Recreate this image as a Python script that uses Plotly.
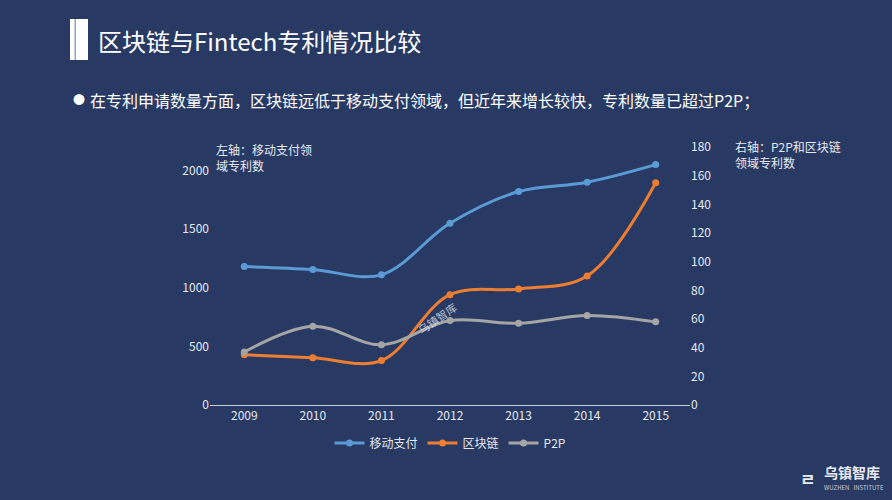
import plotly.graph_objects as go

years = ["2009", "2010", "2011", "2012", "2013", "2014", "2015"]
mobile_pay = [1180, 1155, 1110, 1550, 1820, 1900, 2050]
blockchain = [35, 33, 31, 77, 81, 90, 155]
p2p = [37, 55, 42, 59, 57, 62.5, 58]
left_ticks = [0, 500, 1000, 1500, 2000]
right_ticks = [0, 20, 40, 60, 80, 100, 120, 140, 160, 180]

BG = "rgb(40,58,99)"
TXT = "#e6e9ef"
FONT = "Noto Sans CJK SC"

fig = go.Figure()
fig.add_trace(go.Scatter(x=years, y=mobile_pay, name="移动支付", mode="lines+markers",
                         line=dict(color="#5b9bd5", width=3, shape="spline"),
                         marker=dict(size=7, color="#5b9bd5"), yaxis="y"))
fig.add_trace(go.Scatter(x=years, y=blockchain, name="区块链", mode="lines+markers",
                         line=dict(color="#ed7d31", width=3, shape="spline"),
                         marker=dict(size=7, color="#ed7d31"), yaxis="y2"))
fig.add_trace(go.Scatter(x=years, y=p2p, name="P2P", mode="lines+markers",
                         line=dict(color="#a5a5a5", width=3, shape="spline"),
                         marker=dict(size=7, color="#a5a5a5"), yaxis="y2"))

W, H = 892, 500
ML, MR, MT, MB = 210, 202, 147, 95

def px(x): return (x - ML) / (W - ML - MR)
def py(y): return (H - MB - y) / (H - MT - MB)

fig.update_layout(
    width=W, height=H,
    paper_bgcolor=BG, plot_bgcolor=BG,
    margin=dict(l=ML, r=MR, t=MT, b=MB, autoexpand=False),
    font=dict(family=FONT, color=TXT, size=12),
    xaxis=dict(type="category", range=[-0.5, 6.5], showgrid=False, showline=True,
               linecolor="#c8ccd6", linewidth=1, ticks="", zeroline=False,
               tickfont=dict(size=12, color=TXT)),
    yaxis=dict(range=[0, 2200], tickvals=left_ticks, showgrid=False, zeroline=False,
               showline=False, ticks="", tickfont=dict(size=12, color=TXT)),
    yaxis2=dict(range=[0, 180], tickvals=right_ticks, overlaying="y", side="right",
                showgrid=False, zeroline=False, showline=False, ticks="",
                tickfont=dict(size=12, color=TXT)),
    legend=dict(orientation="h", x=0.5, xanchor="center", y=py(443), yanchor="middle",
                font=dict(size=12, color=TXT), bgcolor="rgba(0,0,0,0)", itemwidth=30,
                tracegroupgap=0),
    showlegend=True,
)

# title marker bars
fig.add_shape(type="rect", xref="paper", yref="paper", x0=px(70), x1=px(88), y0=py(60), y1=py(19),
              fillcolor="#ffffff", line=dict(width=0))
fig.add_shape(type="rect", xref="paper", yref="paper", x0=px(74.5), x1=px(76), y0=py(60), y1=py(19),
              fillcolor="#9aa3b5", line=dict(width=0))

anns = [
    dict(text="区块链与Fintech专利情况比较", x=px(96), y=py(41), xanchor="left", yanchor="middle",
         font=dict(size=24, color="#ffffff")),
    dict(text="●", x=px(71), y=py(100), xanchor="left", yanchor="middle", font=dict(size=12, color="#ffffff")),
    dict(text="在专利申请数量方面，区块链远低于移动支付领域，但近年来增长较快，专利数量已超过P2P；",
         x=px(88), y=py(100), xanchor="left", yanchor="middle", font=dict(size=16, color="#ffffff")),
    dict(text="左轴：移动支付领<br>域专利数", x=px(214), y=py(139), xanchor="left", yanchor="top", align="left",
         font=dict(size=12, color=TXT)),
    dict(text="右轴：P2P和区块链<br>领域专利数", x=px(733), y=py(136), xanchor="left", yanchor="top", align="left",
         font=dict(size=12, color=TXT)),
    dict(text="乌镇智库", x=px(437), y=py(318), xanchor="center", yanchor="middle", textangle=-35,
         font=dict(size=11, color="rgba(230,235,245,0.75)")),
    dict(text="<b>乌镇智库</b>", x=px(822), y=py(472), xanchor="left", yanchor="middle",
         font=dict(size=14, color="#e8ebf2")),
    dict(text="WUZHEN   INSTITUTE", x=px(822), y=py(487), xanchor="left", yanchor="middle",
         font=dict(size=6, color="#c8ccd6")),
    dict(text="<b>ㄹ</b>", x=px(808), y=py(478), xanchor="center", yanchor="middle",
         font=dict(size=17, color="#e8ebf2")),
]
for a in anns:
    a.update(xref="paper", yref="paper", showarrow=False)
    fig.add_annotation(**a)

fig.write_html("out.html", config={"displayModeBar": False},
               post_script="document.body.style.margin='0';document.body.style.background='" + BG + "';")
